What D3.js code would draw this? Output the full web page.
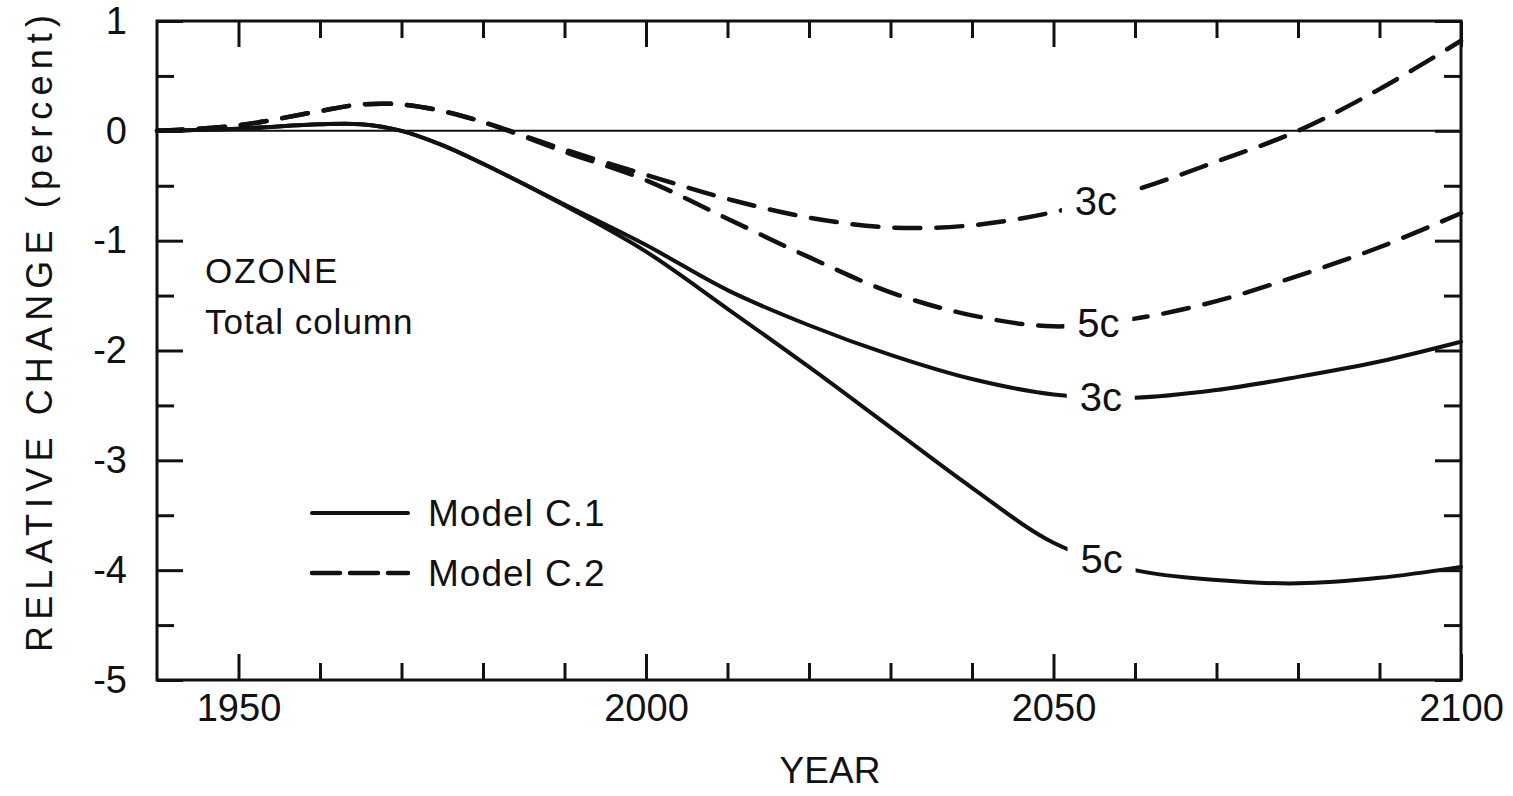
<!DOCTYPE html>
<html>
<head>
<meta charset="utf-8">
<script src="https://cdn.jsdelivr.net/npm/d3@7"></script>
<style>
  body { margin: 0; background: #fff; }
  text { font-family: "Liberation Sans", "DejaVu Sans", sans-serif; fill: #111; }
</style>
</head>
<body>
<div id="chart"></div>
<script>
var svgWidth = 1513;
var svgHeight = 796;
var margin = {top: 21, right: 52, bottom: 116, left: 157};
var width = svgWidth - margin.left - margin.right;
var height = svgHeight - margin.top - margin.bottom;

// Data (percent change in total column ozone)
var years = [1940, 1950, 1960, 1965, 1970, 1975, 1980, 1990, 2000, 2010, 2020, 2030, 2040, 2050, 2060, 2070, 2080, 2090, 2100];
var c1_3c = [0, 0.02, 0.06, 0.06, 0.0, -0.13, -0.3, -0.67, -1.04, -1.45, -1.77, -2.04, -2.26, -2.4, -2.43, -2.36, -2.24, -2.1, -1.92];
var c1_5c = [0, 0.02, 0.06, 0.06, 0.0, -0.13, -0.3, -0.68, -1.1, -1.62, -2.15, -2.7, -3.25, -3.75, -4.0, -4.09, -4.12, -4.07, -3.97];
var c2_3c = [0, 0.05, 0.18, 0.24, 0.24, 0.18, 0.08, -0.17, -0.4, -0.62, -0.79, -0.88, -0.86, -0.74, -0.54, -0.28, 0.0, 0.38, 0.82];
var c2_5c = [0, 0.05, 0.18, 0.24, 0.24, 0.18, 0.08, -0.19, -0.45, -0.8, -1.15, -1.47, -1.68, -1.78, -1.71, -1.55, -1.32, -1.06, -0.75];

var xMajor = [1950, 2000, 2050, 2100];
var xMinor = [1960, 1970, 1980, 1990, 2010, 2020, 2030, 2040, 2060, 2070, 2080, 2090];
var yMajor = [1, 0, -1, -2, -3, -4, -5];
var yMinor = [0.5, -0.5, -1.5, -2.5, -3.5, -4.5];

// curve labels: series, label, year where the label sits
var curveLabels = [
  {series: c2_3c, label: "3c", year: 2055.2},
  {series: c2_5c, label: "5c", year: 2055.5},
  {series: c1_3c, label: "3c", year: 2055.8},
  {series: c1_5c, label: "5c", year: 2055.9}
];

var svg = d3.select("#chart").append("svg")
  .attr("width", svgWidth)
  .attr("height", svgHeight);

var chartGroup = svg.append("g")
  .attr("transform", "translate(" + margin.left + "," + margin.top + ")");

var x = d3.scaleLinear().domain([1940, 2100]).range([0, width]);
var y = d3.scaleLinear().domain([-5, 1]).range([height, 0]);

// zero line
chartGroup.append("line")
  .attr("x1", 0).attr("x2", width)
  .attr("y1", y(0)).attr("y2", y(0))
  .attr("stroke", "#111").attr("stroke-width", 2);

// curves
var line = d3.line()
  .x(function(d) { return x(d[0]); })
  .y(function(d) { return y(d[1]); })
  .curve(d3.curveCatmullRom.alpha(0.5));

function pairs(vals) {
  return years.map(function(yr, i) { return [yr, vals[i]]; });
}

[c1_3c, c1_5c].forEach(function(s) {
  chartGroup.append("path")
    .attr("d", line(pairs(s)))
    .attr("fill", "none")
    .attr("stroke", "#111")
    .attr("stroke-width", 4)
    .attr("stroke-linecap", "round");
});

[c2_3c, c2_5c].forEach(function(s) {
  chartGroup.append("path")
    .attr("d", line(pairs(s)))
    .attr("fill", "none")
    .attr("stroke", "#111")
    .attr("stroke-width", 4.5)
    .attr("stroke-linecap", "round")
    .attr("stroke-dasharray", "26,16");
});

// labels on curves, on a white box that opens a gap in the line
curveLabels.forEach(function(c) {
  var v = d3.scaleLinear().domain(years).range(c.series)(c.year);
  var cx = x(c.year), cy = y(v);
  chartGroup.append("rect")
    .attr("x", cx - 34).attr("y", cy - 20)
    .attr("width", 68).attr("height", 40)
    .attr("fill", "#fff");
  chartGroup.append("text")
    .attr("x", cx)
    .attr("y", cy)
    .attr("dy", "0.36em")
    .attr("text-anchor", "middle")
    .style("font-size", "40px")
    .text(c.label);
});

// frame
chartGroup.append("rect")
  .attr("width", width).attr("height", height)
  .attr("fill", "none").attr("stroke", "#111").attr("stroke-width", 3);

function ticks(axis) {
  return function(g) {
    g.call(axis);
    g.select(".domain").remove();
    g.selectAll(".tick line").attr("stroke", "#111").attr("stroke-width", 3);
  };
}

// bottom axis
chartGroup.append("g")
  .attr("transform", "translate(0," + height + ")")
  .call(ticks(d3.axisBottom(x).tickValues(xMajor).tickSize(-26).tickPadding(14).tickFormat(d3.format("d"))));
chartGroup.append("g")
  .attr("transform", "translate(0," + height + ")")
  .call(ticks(d3.axisBottom(x).tickValues(xMinor).tickSize(-17).tickFormat("")));
// top axis
chartGroup.append("g")
  .call(ticks(d3.axisTop(x).tickValues(xMajor).tickSize(-26).tickFormat("")));
chartGroup.append("g")
  .call(ticks(d3.axisTop(x).tickValues(xMinor).tickSize(-17).tickFormat("")));
// left axis
chartGroup.append("g")
  .call(ticks(d3.axisLeft(y).tickValues(yMajor).tickSize(-26).tickPadding(30).tickFormat(d3.format("d"))));
chartGroup.append("g")
  .call(ticks(d3.axisLeft(y).tickValues(yMinor).tickSize(-17).tickFormat("")));
// right axis
chartGroup.append("g")
  .attr("transform", "translate(" + width + ",0)")
  .call(ticks(d3.axisRight(y).tickValues(yMajor).tickSize(-26).tickFormat("")));
chartGroup.append("g")
  .attr("transform", "translate(" + width + ",0)")
  .call(ticks(d3.axisRight(y).tickValues(yMinor).tickSize(-17).tickFormat("")));

chartGroup.selectAll(".tick text")
  .style("font-size", "38px")
  .attr("fill", "#111")
  .text(function() { return d3.select(this).text().replace("\u2212", "-"); });

// annotation
chartGroup.append("text")
  .attr("x", 48).attr("y", 262)
  .style("font-size", "35px")
  .style("letter-spacing", "2px")
  .text("OZONE");
chartGroup.append("text")
  .attr("x", 48).attr("y", 313)
  .style("font-size", "35px")
  .style("letter-spacing", "1px")
  .text("Total column");

// legend
var legend = chartGroup.append("g").attr("transform", "translate(155,492)");
legend.append("line")
  .attr("x1", 0).attr("x2", 96).attr("y1", 0).attr("y2", 0)
  .attr("stroke", "#111").attr("stroke-width", 4).attr("stroke-linecap", "round");
legend.append("line")
  .attr("x1", 0).attr("x2", 96).attr("y1", 60).attr("y2", 60)
  .attr("stroke", "#111").attr("stroke-width", 4.5).attr("stroke-linecap", "round")
  .attr("stroke-dasharray", "28,10");
legend.append("text").attr("x", 116).attr("y", 13)
  .style("font-size", "37px").style("letter-spacing", "1px").text("Model  C.1");
legend.append("text").attr("x", 116).attr("y", 73)
  .style("font-size", "37px").style("letter-spacing", "1px").text("Model  C.2");

// axis titles
chartGroup.append("text")
  .attr("x", 673).attr("y", 762)
  .attr("text-anchor", "middle")
  .style("font-size", "37px")
  .text("YEAR");

chartGroup.append("text")
  .attr("transform", "rotate(-90)")
  .attr("x", -(652 - margin.top))
  .attr("y", 52 - margin.left)
  .attr("textLength", 637)
  .attr("lengthAdjust", "spacing")
  .style("font-size", "36px")
  .text("RELATIVE CHANGE (percent)");
</script>
</body>
</html>
